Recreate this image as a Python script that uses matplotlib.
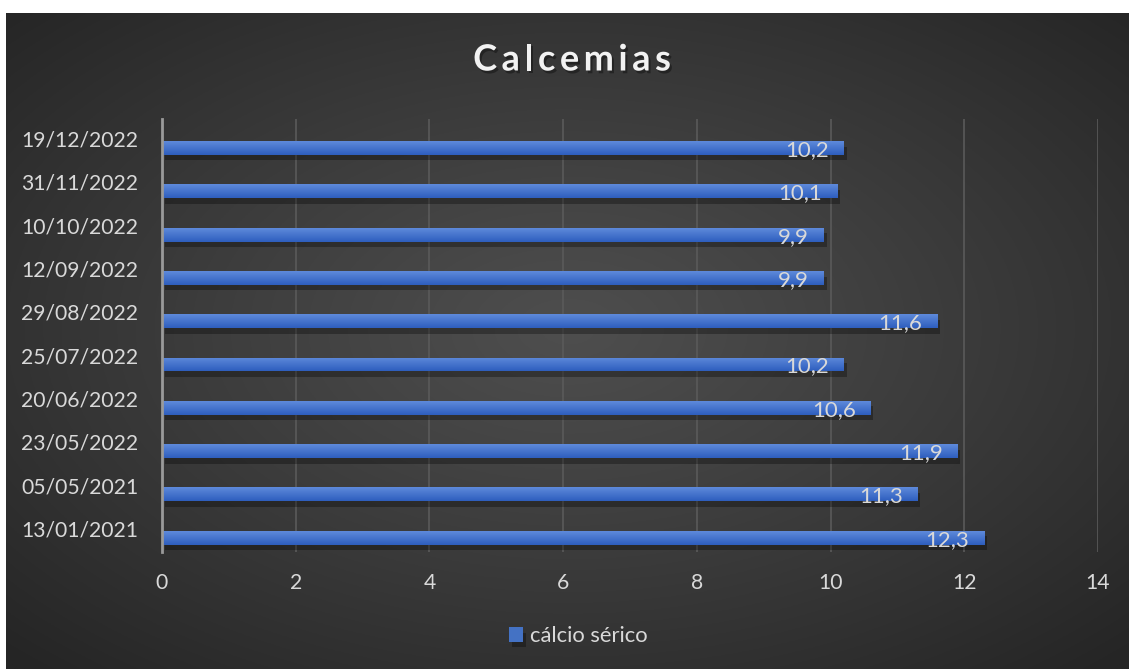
import numpy as np
import matplotlib
matplotlib.use("Agg")
import matplotlib.pyplot as plt
import matplotlib.patheffects as pe
from matplotlib.transforms import IdentityTransform

# ---- data ----
dates = ["13/01/2021", "05/05/2021", "23/05/2022", "20/06/2022", "25/07/2022",
         "29/08/2022", "12/09/2022", "10/10/2022", "31/11/2022", "19/12/2022"]
values = [12.3, 11.3, 11.9, 10.6, 10.2, 11.6, 9.9, 9.9, 10.1, 10.2]
series_name = "cálcio sérico"
title = "Calcemias"
xticks = [0, 2, 4, 6, 8, 10, 12, 14]

FONT = ["Lato", "DejaVu Sans"]
plt.rcParams['font.family'] = FONT
TXT = "#d9d9d9"
BAR = "#4472c4"

W, H = 1129, 669
fig = plt.figure(figsize=(W / 100, H / 100), dpi=100, facecolor="white")

# background with radial gradient
bg = fig.add_axes([6 / W, 0, 1 - 6 / W, (H - 13) / H], zorder=0)
ny, nx = 400, 700
yy, xx = np.mgrid[0:ny, 0:nx]
r = np.sqrt(((xx - nx * 0.5) / (nx * 0.5)) ** 2 + ((yy - ny * 0.48) / (ny * 0.5)) ** 2) / np.sqrt(2)
r = np.clip(r, 0, 1)
c_in, c_out = 0x4e / 255, 0x25 / 255
g = c_in + (c_out - c_in) * r ** 1.1
img = np.dstack([g, g, g])
bg.imshow(img, aspect="auto", extent=[0, 1, 0, 1], origin="upper")
bg.set_axis_off()

ax = fig.add_axes([162 / W, (H - 552) / H, (1098 - 162) / W, (552 - 119) / H], zorder=1)
ax.patch.set_alpha(0)

n = len(dates)
pos = np.arange(n)
offset = 0.17
bh = 0.32
bars = ax.barh(pos - offset, values, height=bh, color=BAR, zorder=3,
               path_effects=[pe.SimplePatchShadow(offset=(2, -4), shadow_rgbFace="black", alpha=0.3),
                             pe.Normal()])

# vertical gradient inside each bar
grad = np.linspace(0, 1, 64)[:, None]
top = np.array([0x5e, 0x8a, 0xdb]) / 255
bot = np.array([0x2e, 0x5e, 0xbe]) / 255
gimg = top[None, None, :] * (1 - grad[:, :, None]) + bot[None, None, :] * grad[:, :, None]
for b in bars:
    x0, y0, w, h = b.get_x(), b.get_y(), b.get_width(), b.get_height()
    im = ax.imshow(gimg, aspect="auto", extent=[x0, x0 + w, y0, y0 + h], origin="upper",
                   zorder=3.5, interpolation="bilinear")
    im.set_clip_path(b)

for p, v in zip(pos, values):
    ax.annotate(f"{v}".replace(".", ","), xy=(v, p - offset), xytext=(-15, -2),
                textcoords="offset pixels", ha="right", va="center",
                color=TXT, fontsize=16, zorder=5)

ax.set_xlim(0, 14)
ax.set_ylim(-0.5, n - 0.5)
ax.set_xticks(xticks)
ax.set_xticklabels([str(t) for t in xticks])
ax.set_yticks(pos)
ax.set_yticklabels(dates)
ax.tick_params(axis="both", length=0, colors=TXT, labelsize=15.2)
ax.tick_params(axis="x", pad=15)
ax.tick_params(axis="y", pad=17)
for lbl in ax.get_yticklabels():
    lbl.set_verticalalignment("center")
ax.grid(axis="x", color="#5a5a5a", linewidth=1.2, zorder=1)
ax.grid(axis="y", visible=False)
for s in ["top", "right", "bottom"]:
    ax.spines[s].set_visible(False)
ax.spines["left"].set_color("#9a9a9a")
ax.spines["left"].set_linewidth(2)
ax.spines["left"].set_zorder(4)

# letter-spaced title
renderer = fig.canvas.get_renderer()
tprops = dict(color="#f2f2f2", fontsize=26, fontweight="bold", family=FONT,
              path_effects=[pe.withSimplePatchShadow(offset=(1.5, -2), shadow_rgbFace="black", alpha=0.35)])
chars = []
widths = []
for ch in title:
    t = fig.text(0, 0, ch, transform=IdentityTransform(), ha="left", va="center", **tprops)
    chars.append(t)
    widths.append(t.get_window_extent(renderer).width)
spacing = 4.5
total = sum(widths) + spacing * (len(title) - 1)
xcur = 572 - total / 2
ycen = H - 60
for t, wd in zip(chars, widths):
    t.set_position((xcur, ycen))
    xcur += wd + spacing

# legend
leg = fig.legend([bars], [series_name], loc="center", bbox_to_anchor=(578 / W, 1 - 636 / H),
                 frameon=False, fontsize=15.8, labelcolor=TXT, handlelength=0.65,
                 handleheight=0.65, handletextpad=0.3)

fig.savefig("out.png", dpi=100, facecolor="white")
